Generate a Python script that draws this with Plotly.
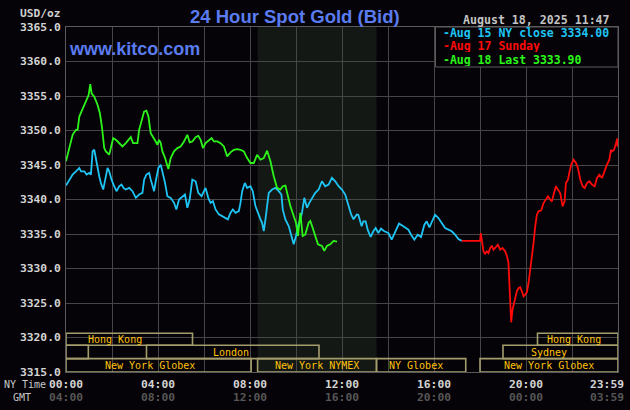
import plotly.graph_objects as go

# ---------------- data ----------------
# minutes after midnight (NY time) and price
aug15_min = [0, 8.7, 17.3, 26, 34.7, 39, 47.7, 53.8, 60.7, 65, 69.4, 73.7, 78, 82.4, 86.7, 91, 97.1, 102.3,
             108.4, 112.7, 118.8, 125.7, 131.8, 138.7, 144.8, 150, 156, 164.7, 173.4, 182.1, 190.8, 199.4,
             203.8, 209.8, 216.8, 221.1, 225.4, 229.8, 234.1, 241, 247.1, 251.5, 258.4, 264.5, 273.1, 281.8,
             287.9, 294.8, 303.5, 310.4, 316.5, 322.6, 329.5, 338.2, 345.1, 353.8, 359.8, 364.2, 371.1, 377.2,
             383.3, 390.2, 398.9, 407.5, 416.2, 422.3, 429.2, 435.3, 442.2, 450.9, 455.2, 459.6, 466.5, 472.6,
             481.2, 487.3, 494.2, 501.2, 507.3, 511.6, 515.9, 520.3, 524.6, 528.9, 537.6, 546.3, 554.9, 561.9,
             565.4, 572.3, 581, 587.9, 594, 600, 605.2, 611.3, 615.6, 621.7, 628.6, 634.7, 641.7, 650.3, 659,
             667.7, 676.3, 685, 693.7, 702.4, 711, 719.7, 728.4, 737, 743.9, 750, 758.7, 762.5, 771.2, 775.6,
             781.7, 786.9, 794.7, 801.7, 807.8, 814.7, 821.7, 830.4, 840.9, 849.6, 858.3, 868.7, 880.1, 893.1,
             900.1, 908.8, 917.5, 926.2, 934.9, 941, 948, 955.8, 962.8, 971.5, 980.2, 988.9, 997.6, 1006.3,
             1015, 1023.7, 1032.4]
aug15_val = [3342.02, 3342.88, 3343.61, 3344.09, 3344.57, 3344.09, 3344.09, 3343.61, 3343.85, 3343.61, 3346.97,
             3347.21, 3345.77, 3344.57, 3343.37, 3342.40, 3341.44, 3342.88, 3344.57, 3344.09, 3342.88, 3341.92,
             3341.20, 3341.92, 3342.16, 3341.68, 3341.44, 3341.68, 3341.20, 3340.24, 3340.72, 3340.96, 3342.88,
             3343.61, 3343.85, 3342.88, 3341.92, 3341.20, 3342.64, 3344.57, 3345.05, 3344.09, 3342.40, 3340.48,
             3340.24, 3339.52, 3338.56, 3340.00, 3340.48, 3340.72, 3338.80, 3340.00, 3342.88, 3342.64, 3340.96,
             3340.48, 3341.20, 3341.68, 3340.24, 3339.52, 3339.76, 3338.56, 3337.84, 3337.60, 3337.36, 3337.12,
             3338.08, 3338.56, 3338.08, 3338.32, 3339.52, 3341.20, 3342.40, 3341.68, 3341.92, 3341.20, 3339.04,
             3337.84, 3337.12, 3336.63, 3335.43, 3337.12, 3339.04, 3340.96, 3341.44, 3341.68, 3341.20, 3340.72,
             3338.56, 3337.12, 3336.15, 3334.71, 3333.51, 3334.71, 3336.15, 3337.12, 3338.08, 3340.24, 3338.80,
             3339.52, 3340.24, 3340.96, 3341.44, 3342.64, 3341.92, 3342.16, 3343.13, 3342.64, 3341.92, 3341.44,
             3340.72, 3339.04, 3337.84, 3337.12, 3337.84, 3337.80, 3336.11, 3336.84, 3336.84, 3335.63, 3334.57,
             3335.39, 3335.87, 3335.14, 3335.77, 3335.39, 3335.14, 3334.18, 3335.14, 3336.50, 3336.11, 3335.63,
             3334.90, 3334.18, 3334.90, 3334.57, 3336.35, 3336.84, 3335.97, 3337.08, 3337.80, 3337.32, 3336.59,
             3335.87, 3335.63, 3335.39, 3334.90, 3334.28, 3334.00]

aug17_min = [1032.4, 1080.3, 1082.1, 1084.7, 1089.1, 1093.4, 1097.8, 1102.1, 1106.5, 1110.8, 1115.2, 1119.5,
             1126.5, 1132.6, 1138.7, 1145.6, 1150, 1154.3, 1156.1, 1158.7, 1161.3, 1164.8, 1167.4, 1171.8,
             1176.1, 1180.5, 1184.8, 1189.2, 1193.5, 1197.9, 1202.3, 1206.6, 1211, 1215.3, 1219.7, 1224, 1228.4,
             1232.7, 1239.7, 1245.8, 1251.9, 1257.1, 1263.2, 1267.6, 1271.9, 1278, 1283.2, 1289.3, 1295.4,
             1300.7, 1304.1, 1309.4, 1312.8, 1318.1, 1324.2, 1330.3, 1335.5, 1341.6, 1347.7, 1353, 1359.1,
             1365.2, 1372.1, 1379.1, 1385.2, 1391.3, 1398.3, 1405.2, 1411.3, 1417.4, 1421.7, 1423.5, 1429.6,
             1434.8, 1438.3, 1439]
aug17_val = [3334.00, 3334.00, 3335.14, 3333.94, 3332.49, 3332.15, 3332.49, 3332.25, 3332.97, 3333.31, 3332.73,
             3332.97, 3333.45, 3332.73, 3332.97, 3332.49, 3331.86, 3330.80, 3328.86, 3326.93, 3322.20, 3324.03,
             3324.76, 3325.97, 3326.69, 3327.17, 3327.32, 3326.69, 3325.97, 3326.21, 3326.55, 3327.90, 3329.83,
             3331.28, 3333.70, 3336.11, 3337.80, 3338.29, 3338.43, 3339.49, 3339.98, 3340.46, 3339.98, 3339.73,
             3340.70, 3341.91, 3341.43, 3340.94, 3339.01, 3339.73, 3342.39, 3342.87, 3343.84, 3345.05, 3345.77,
             3345.29, 3344.57, 3342.87, 3341.91, 3341.67, 3342.39, 3342.63, 3342.15, 3341.91, 3343.12, 3343.60,
             3343.12, 3344.32, 3345.05, 3345.77, 3347.22, 3346.93, 3347.17, 3348.14, 3348.86, 3347.65]

aug18_min = [0, 8.7, 17.3, 26, 30.3, 34.7, 43.4, 52, 59, 63.3, 66.8, 73.7, 82.4, 88.4, 93.6, 99.7, 104, 112.7,
             118.8, 123.1, 130, 138.7, 147.4, 156, 164.7, 169, 175, 186.4, 190.8, 197.7, 203.8, 209.8, 215, 221,
             227.2, 234.1, 238.5, 242.8, 247.1, 251.5, 258.4, 264.5, 267, 273.1, 281.8, 290.5, 299.1, 307.8,
             316.5, 322.6, 329.5, 338.2, 345.1, 351.2, 357.2, 364.2, 372.9, 379.8, 385.9, 394.5, 403.2, 411.9,
             420.5, 429.2, 437.9, 446.6, 455.2, 463.9, 472.6, 481.2, 489.9, 498.6, 507.3, 515.9, 524.6, 533.3,
             541.9, 550.6, 559.3, 565.4, 572.3, 579.2, 585.3, 594, 600, 605.2, 611.3, 617.4, 624.3, 633, 637.3,
             643.4, 650.3, 657.3, 667.7, 673.7, 680.7, 689.3, 698, 707]
aug18_val = [3345.53, 3347.69, 3349.38, 3350.10, 3350.10, 3352.02, 3353.22, 3354.42, 3355.14, 3356.73, 3355.38,
             3354.90, 3353.70, 3352.50, 3350.58, 3347.45, 3346.97, 3346.49, 3347.69, 3348.89, 3348.65, 3348.17,
             3347.69, 3348.17, 3348.65, 3349.04, 3348.17, 3348.17, 3350.10, 3351.54, 3352.74, 3352.88, 3352.02,
             3349.62, 3349.13, 3348.41, 3347.93, 3348.65, 3348.17, 3346.97, 3346.01, 3344.81, 3344.42, 3346.01,
             3346.97, 3347.45, 3347.69, 3348.41, 3349.38, 3348.27, 3348.41, 3349.04, 3349.23, 3348.65, 3347.45,
             3348.17, 3348.65, 3348.89, 3348.41, 3348.41, 3348.17, 3347.69, 3346.25, 3346.83, 3347.21, 3347.31,
             3347.21, 3346.97, 3346.01, 3345.29, 3345.29, 3346.49, 3345.77, 3346.01, 3347.07, 3345.53, 3343.37,
             3341.68, 3341.44, 3341.92, 3342.02, 3340.24, 3339.04, 3337.60, 3336.63, 3334.71, 3338.08, 3334.71,
             3334.95, 3336.63, 3336.88, 3335.91, 3334.71, 3333.51, 3333.27, 3332.55, 3333.27, 3333.51, 3333.99,
             3333.90]

legend_labels = ["Aug 15 NY close 3334.00", "Aug 17 Sunday", "Aug 18 Last 3333.90"]
ny_ticks = ["00:00", "04:00", "08:00", "12:00", "16:00", "20:00", "23:59"]
gmt_ticks = ["04:00", "08:00", "12:00", "16:00", "20:00", "00:00", "03:59"]
tick_hours = [0, 4, 8, 12, 16, 20, 23.52]

# sessions: (label, start hour, end hour, row, label hour)
sessions = [
    ("Hong Kong", 0, 5.5, 1, 2.13),
    ("Hong Kong", 20.5, 24, 1, 22.09),
    ("", 0, 0.97, 2, None),
    ("London", 3.5, 11.0, 2, 7.17),
    ("Sydney", 19.0, 24, 2, 21.0),
    ("New York Globex", 0, 8.05, 3, 3.65),
    ("New York NYMEX", 8.33, 13.5, 3, 10.9),
    ("NY Globex", 13.5, 17.38, 3, 15.2),
    ("New York Globex", 18.0, 24, 3, 21.0),
]
nymex_start, nymex_end = 8.33, 13.5

# ---------------- styling ----------------
BG = "#050307"
GRID = "#464646"
MONO = "DejaVu Sans Mono"
BLUE = "#1ec4f4"
RED = "#ff0a0a"
GREEN = "#2cf51a"
TITLE_BLUE = "#5a7cf0"
SESS_LINE = "#a39d6c"
SESS_TEXT = "#ffc20a"

L, R, T, B = 66, 12, 27, 38
W, H = 630, 410
PW, PH = W - L - R, H - T - B


def px2x(px):
    return (px - L) / PW


def py2y(py):
    return (H - B - py) / PH


def py2val(py):
    return 3365 - (py - T) / PH * 50


def bold(s):
    return "<b>" + s + "</b>"


fig = go.Figure()

fig.add_trace(go.Scatter(x=[m / 60 for m in aug15_min], y=aug15_val, mode="lines",
                         line=dict(color=BLUE, width=1.8), hoverinfo="skip"))
fig.add_trace(go.Scatter(x=[m / 60 for m in aug17_min], y=aug17_val, mode="lines",
                         line=dict(color=RED, width=1.8), hoverinfo="skip"))
fig.add_trace(go.Scatter(x=[m / 60 for m in aug18_min], y=aug18_val, mode="lines",
                         line=dict(color=GREEN, width=1.8), hoverinfo="skip"))

shapes = []
# NYMEX shading
shapes.append(dict(type="rect", xref="x", yref="paper", x0=nymex_start, x1=nymex_end, y0=0, y1=1,
                   fillcolor="#141814", line=dict(width=0), layer="below"))

row_px = {1: (333.3, 345.3), 2: (345.3, 358.6), 3: (358.6, 372)}
annotations = []
for name, s, e, row, lh in sessions:
    top, bot = row_px[row]
    shapes.append(dict(type="rect", xref="x", yref="y", x0=s, x1=e, y0=py2val(bot), y1=py2val(top),
                       line=dict(color=SESS_LINE, width=1.6), fillcolor="rgba(0,0,0,0)", layer="above"))
    if name:
        annotations.append(dict(x=lh, y=py2val((top + bot) / 2 + 0.3), xref="x", yref="y", text=name,
                                showarrow=False, xanchor="center", yanchor="middle",
                                font=dict(family=MONO, size=10, color=SESS_TEXT)))

# legend box
shapes.append(dict(type="rect", xref="paper", yref="paper", x0=px2x(435.5), x1=1, y0=py2y(67), y1=1,
                   fillcolor=BG, line=dict(color="#5a5a5a", width=1), layer="above"))
for lab, col, py in zip(legend_labels, [BLUE, RED, GREEN], [32.8, 46.2, 59.6]):
    annotations.append(dict(x=px2x(441), y=py2y(py), xref="paper", yref="paper", text=bold("-" + lab),
                            showarrow=False, xanchor="left", yanchor="middle", height=12,
                            font=dict(family=MONO, size=11.5, color=col)))

# titles / texts
annotations.append(dict(x=px2x(295), y=py2y(16), xref="paper", yref="paper",
                        text=bold("24 Hour Spot Gold (Bid)"), showarrow=False, xanchor="center",
                        yanchor="middle",
                        font=dict(family="Liberation Sans", size=18.5, color=TITLE_BLUE)))
annotations.append(dict(x=px2x(67), y=py2y(48.5), xref="paper", yref="paper",
                        text=bold("www.kitco.com"), showarrow=False, xanchor="left", yanchor="middle",
                        font=dict(family="Liberation Sans", size=18, color=TITLE_BLUE)))
annotations.append(dict(x=px2x(461), y=py2y(20), xref="paper", yref="paper",
                        text=bold("August 18, 2025 11:47"), showarrow=False, xanchor="left",
                        yanchor="middle",
                        font=dict(family=MONO, size=11.6, color="#c4c4c4")))
annotations.append(dict(x=px2x(62), y=py2y(13), xref="paper", yref="paper",
                        text=bold("USD/oz"), showarrow=False, xanchor="right", yanchor="middle",
                        font=dict(family=MONO, size=11.2, color="#d0d0d0")))
annotations.append(dict(x=px2x(2), y=py2y(384), xref="paper", yref="paper",
                        text="NY Time", showarrow=False, xanchor="left", yanchor="middle",
                        font=dict(family=MONO, size=10, color="#c8c8c8")))
annotations.append(dict(x=px2x(10.5), y=py2y(397), xref="paper", yref="paper",
                        text="GMT", showarrow=False, xanchor="left", yanchor="middle",
                        font=dict(family=MONO, size=10, color="#c8c8c8")))
for h, ny, gm in zip(tick_hours, ny_ticks, gmt_ticks):
    annotations.append(dict(x=h, y=py2y(384), xref="x", yref="paper", text=bold(ny), showarrow=False,
                            xanchor="center", yanchor="middle",
                            font=dict(family=MONO, size=11.3, color="#d4d4d4")))
    annotations.append(dict(x=h, y=py2y(397), xref="x", yref="paper", text=bold(gm), showarrow=False,
                            xanchor="center", yanchor="middle",
                            font=dict(family=MONO, size=11.3, color="#565656")))

fig.update_layout(
    width=W, height=H,
    margin=dict(l=L, r=R, t=T, b=B),
    paper_bgcolor=BG, plot_bgcolor=BG,
    showlegend=False,
    shapes=shapes,
    annotations=annotations,
    xaxis=dict(range=[0, 24], tick0=0, dtick=2, showticklabels=False, showgrid=True,
               gridcolor=GRID, gridwidth=1, zeroline=False, showline=True, linecolor="#5a5a5a",
               linewidth=1, mirror=True, ticks="", fixedrange=True),
    yaxis=dict(range=[3315, 3365], tick0=3315, dtick=5, tickformat=".1f", showgrid=True,
               gridcolor=GRID, gridwidth=1, zeroline=False, showline=True, linecolor="#5a5a5a",
               linewidth=1, mirror=True, ticks="", ticklabelstandoff=2,
               tickfont=dict(family=MONO, size=11.3, color="#d4d4d4", weight="bold"), fixedrange=True),
)

fig.write_html("out.html", config={"displayModeBar": False})
